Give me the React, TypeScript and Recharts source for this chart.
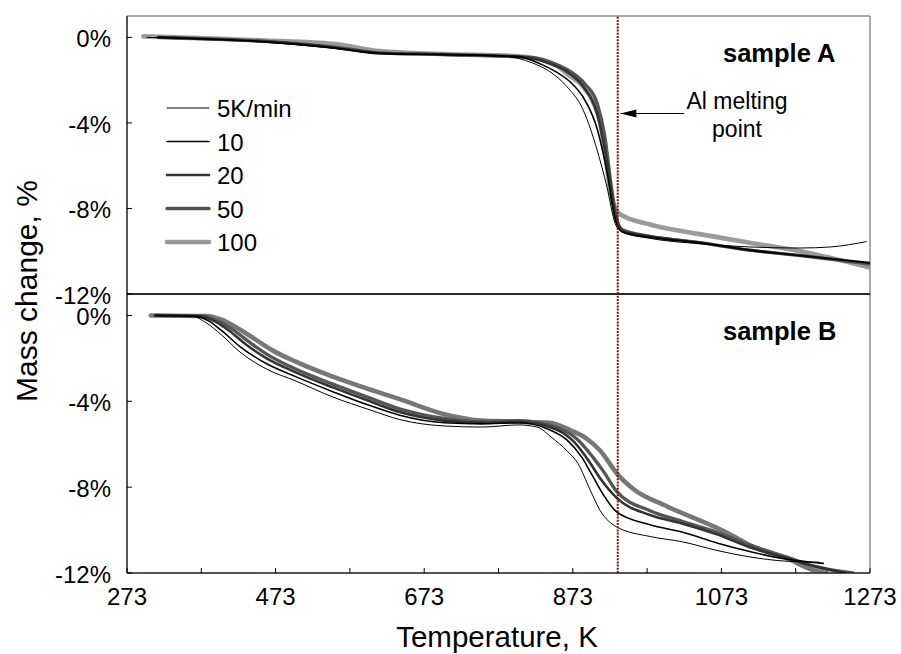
import React from 'react';
import { LineChart, Line, XAxis, YAxis, ReferenceLine, ReferenceArea, Legend } from 'recharts';

const FONT = '"Liberation Sans", Arial, sans-serif';

// heating rates, K/min
const rates = ['5K/min', '10', '20', '50', '100'];
const xTicks = [273, 373, 473, 573, 673, 773, 873, 973, 1073, 1173, 1273];
const xLabelTicks = [273, 473, 673, 873, 1073, 1273];
const yTicks = [0, -4, -8, -12];
const alMeltingPoint = 933.5;

// sample A: [temperature K, mass change %]
const sampleA5 = [
  [300, 0], [400, -0.1], [461, -0.22], [550, -0.5], [613, -0.76], [700, -0.82], [780, -0.88],
  [819, -1.2], [842, -1.6], [865, -2.3], [887, -3.4], [906, -5.3], [919, -7.0], [930, -8.7],
  [939, -9.1], [977, -9.4], [1044, -9.65], [1111, -9.8], [1179, -9.85], [1220, -9.8], [1268, -9.55],
];
const sampleA10 = [
  [315, 0], [400, -0.1], [461, -0.21], [550, -0.48], [613, -0.74], [700, -0.8], [800, -0.9],
  [830, -1.25], [850, -1.6], [870, -2.1], [887, -2.8], [906, -4.3], [919, -6.3], [930, -8.5],
  [940, -9.1], [977, -9.35], [1044, -9.6], [1111, -9.95], [1179, -10.2], [1273, -10.55],
];
const sampleA20 = [
  [315, 0], [400, -0.1], [461, -0.2], [550, -0.47], [613, -0.74], [700, -0.8], [810, -0.92],
  [840, -1.2], [865, -1.6], [887, -2.3], [906, -3.6], [919, -5.8], [930, -8.3], [940, -9.05],
  [977, -9.3], [1044, -9.6], [1111, -9.95], [1179, -10.2], [1273, -10.55],
];
const sampleA50 = [
  [315, 0], [400, -0.09], [461, -0.19], [550, -0.45], [613, -0.72], [700, -0.8], [820, -0.95],
  [850, -1.25], [870, -1.6], [890, -2.2], [906, -3.1], [916, -4.6], [925, -7.0], [933, -8.6],
  [940, -9.0], [977, -9.3], [1044, -9.6], [1111, -9.95], [1179, -10.2], [1273, -10.6],
];
const sampleA100 = [
  [295, 0.05], [400, -0.07], [461, -0.15], [550, -0.3], [613, -0.64], [700, -0.78], [800, -0.88],
  [850, -1.3], [865, -1.7], [887, -2.3], [900, -3.0], [910, -4.0], [918, -5.8], [924, -7.3],
  [930, -8.0], [936, -8.25], [977, -8.75], [1044, -9.2], [1111, -9.6], [1179, -10.0], [1273, -10.76],
];

// sample B: [temperature K, mass change %]
const sampleB5 = [
  [311, 0], [360, -0.03], [380, -0.35], [400, -0.9], [425, -1.7], [461, -2.5], [500, -3.05],
  [550, -3.8], [600, -4.4], [640, -4.85], [700, -5.15], [750, -5.2], [800, -5.1], [825, -5.2],
  [845, -5.7], [865, -6.3], [880, -6.9], [896, -8.1], [910, -9.1], [932, -9.85], [977, -10.3],
  [1021, -10.55], [1067, -10.95], [1111, -11.25], [1160, -11.45], [1205, -11.5],
];
const sampleB10 = [
  [311, 0], [365, -0.03], [385, -0.3], [400, -0.7], [425, -1.45], [461, -2.25], [500, -2.85],
  [550, -3.55], [600, -4.2], [640, -4.65], [700, -5.0], [750, -5.05], [800, -5.0], [840, -5.3],
  [865, -5.8], [885, -6.6], [900, -7.5], [915, -8.4], [932, -9.15], [977, -9.75], [1021, -10.1],
  [1067, -10.6], [1111, -11.0], [1160, -11.35], [1210, -11.55],
];
const sampleB20 = [
  [311, 0], [370, -0.03], [390, -0.25], [410, -0.7], [435, -1.4], [461, -2.0], [500, -2.65],
  [550, -3.35], [600, -4.0], [640, -4.5], [700, -4.9], [750, -5.0], [800, -4.95], [850, -5.3],
  [875, -5.9], [895, -6.8], [910, -7.6], [932, -8.5], [977, -9.3], [1021, -9.7], [1067, -10.2],
  [1111, -10.8], [1160, -11.3], [1200, -11.7], [1240, -12.0],
];
const sampleB50 = [
  [311, 0], [375, -0.03], [395, -0.25], [415, -0.65], [440, -1.3], [461, -1.8], [500, -2.5],
  [550, -3.2], [600, -3.85], [640, -4.35], [700, -4.8], [750, -4.95], [800, -4.9], [850, -5.2],
  [880, -5.8], [900, -6.6], [915, -7.3], [932, -8.2], [977, -9.1], [1021, -9.6], [1067, -10.1],
  [1111, -10.7], [1160, -11.25], [1200, -11.7], [1250, -12.0],
];
const sampleB100 = [
  [305, 0], [380, -0.03], [400, -0.2], [420, -0.55], [445, -1.1], [470, -1.65], [500, -2.15],
  [550, -2.85], [600, -3.45], [640, -3.9], [700, -4.6], [750, -4.9], [800, -4.95], [842, -5.0],
  [870, -5.35], [890, -5.7], [910, -6.3], [932, -7.35], [955, -8.1], [1000, -8.9], [1067, -9.9],
  [1090, -10.3], [1111, -10.7], [1160, -11.3], [1200, -11.9], [1215, -12.0],
];

const sampleA = [sampleA5, sampleA10, sampleA20, sampleA50, sampleA100];
const sampleB = [sampleB5, sampleB10, sampleB20, sampleB50, sampleB100];

const styleA = [
  { color: '#000000', width: 1 },
  { color: '#000000', width: 1.6 },
  { color: '#333333', width: 2.6 },
  { color: '#555555', width: 3.3 },
  { color: '#9a9a9a', width: 4.6 },
];
const styleB = [
  { color: '#000000', width: 1 },
  { color: '#000000', width: 1.6 },
  { color: '#333333', width: 2.6 },
  { color: '#555555', width: 3.3 },
  { color: '#777777', width: 4.6 },
];

const toPoints = (pairs: number[][]) => pairs.map(([t, m]) => ({ t, m }));

const YTick = (props: any) => {
  const { x, y, payload } = props;
  return (
    <g>
      <line x1={x} y1={y} x2={x + 5} y2={y} stroke="#000" />
      <text x={x - 16} y={y} dy={10} textAnchor="end" fontSize={24} fontFamily={FONT} fill="#000">
        {`${payload.value}%`}
      </text>
    </g>
  );
};

const XTick = (props: any) => {
  const { x, y, payload } = props;
  return (
    <g>
      <line x1={x} y1={y} x2={x} y2={y - 5} stroke="#000" />
      {xLabelTicks.includes(payload.value) && (
        <text x={x} y={y + 32} textAnchor="middle" fontSize={24} fontFamily={FONT} fill="#000">
          {payload.value}
        </text>
      )}
    </g>
  );
};

const Arrow = (props: any) => {
  const { x1, y1, x2, y2 } = props;
  const tip = Math.min(x1, x2);
  return (
    <g>
      <line x1={x1} y1={y1} x2={x2} y2={y2} stroke="#000" strokeWidth={1} />
      <polygon points={`${tip},${y1} ${tip + 16},${y1 - 4} ${tip + 16},${y1 + 4}`} fill="#000" />
    </g>
  );
};

const renderLegend = () => (
  <svg width={150} height={175} style={{ overflow: 'visible' }}>
    {rates.map((r, i) => (
      <g key={r}>
        <line x1={0} x2={42} y1={17 + i * 33.5} y2={17 + i * 33.5} stroke={styleA[i].color} strokeWidth={styleA[i].width} strokeLinecap="round" />
        <text x={50} y={17 + i * 33.5} dy={9} fontSize={24} fontFamily={FONT} fill="#000">{r}</text>
      </g>
    ))}
  </svg>
);

const renderLines = (sample: number[][][], styles: { color: string; width: number }[], prefix: string) =>
  sample
    .map((pairs, i) => (
      <Line
        key={prefix + rates[i]}
        name={rates[i]}
        data={toPoints(pairs)}
        dataKey="m"
        type="monotone"
        stroke={styles[i].color}
        strokeWidth={styles[i].width}
        strokeLinecap="round"
        dot={false}
        activeDot={false}
        isAnimationActive={false}
      />
    ))
    .reverse();

export default function App() {
  return (
    <div style={{ position: 'absolute', left: 0, top: 0, width: 901, height: 654, background: '#fff' }}>
      <div style={{ position: 'absolute', left: 0, top: 280 }}>
        <LineChart width={901} height={374} margin={{ top: 14, right: 31, bottom: 41, left: 67 }}>
          <XAxis type="number" dataKey="t" domain={[273, 1273]} ticks={xTicks} interval={0} tick={<XTick />} tickLine={false} tickSize={0} tickMargin={0} height={40} axisLine={{ stroke: '#000' }} allowDataOverflow />
          <YAxis type="number" domain={[-12, 1]} ticks={yTicks} interval={0} width={60} tick={<YTick />} tickLine={false} tickSize={0} tickMargin={0} axisLine={{ stroke: '#000' }} allowDataOverflow />
          <ReferenceArea x1={273} x2={1273} y1={-12} y2={1} fill="none" stroke="#555" strokeWidth={1} />
          <ReferenceLine y={1} stroke="#000" />
          {renderLines(sampleB, styleB, 'B')}
          <ReferenceLine x={alMeltingPoint} stroke="#6b1515" strokeWidth={2} strokeDasharray="2 1.2" />
        </LineChart>
      </div>
      <div style={{ position: 'absolute', left: 0, top: 0 }}>
        <LineChart width={901} height={320} margin={{ top: 16, right: 31, bottom: 26, left: 67 }}>
          <XAxis type="number" dataKey="t" domain={[273, 1273]} hide allowDataOverflow />
          <YAxis type="number" domain={[-12, 1]} ticks={yTicks} interval={0} width={60} tick={<YTick />} tickLine={false} tickSize={0} tickMargin={0} axisLine={{ stroke: '#000' }} allowDataOverflow />
          <ReferenceArea x1={273} x2={1273} y1={-12} y2={1} fill="none" stroke="#555" strokeWidth={1} />
          <ReferenceLine y={-12} stroke="#000" />
          {renderLines(sampleA, styleA, 'A')}
          <ReferenceLine x={alMeltingPoint} stroke="#6b1515" strokeWidth={2} strokeDasharray="2 1.2" />
          <ReferenceLine segment={[{ x: 1023, y: -3.56 }, { x: 937, y: -3.56 }]} shape={<Arrow />} />
          <Legend
            content={renderLegend}
            layout="vertical"
            align="center"
            verticalAlign="middle"
            width={150}
            height={175}
            wrapperStyle={{ left: 167, top: 91, width: 150, height: 175 }}
          />
        </LineChart>
      </div>
      <svg width={901} height={654} style={{ position: 'absolute', left: 0, top: 0, pointerEvents: 'none' }} fontFamily={FONT}>
        <text x={723} y={62} fontSize={25.5} fontWeight="bold" fill="#000">sample A</text>
        <text x={723} y={340} fontSize={25.5} fontWeight="bold" fill="#000">sample B</text>
        <text x={737} y={109} fontSize={23} textAnchor="middle" fill="#000">Al melting</text>
        <text x={737} y={137} fontSize={23} textAnchor="middle" fill="#000">point</text>
        <text x={497} y={647} fontSize={29.5} textAnchor="middle" fill="#000">Temperature, K</text>
        <text transform="translate(37,291) rotate(-90)" fontSize={30} textAnchor="middle" fill="#000">Mass change, %</text>
      </svg>
    </div>
  );
}
